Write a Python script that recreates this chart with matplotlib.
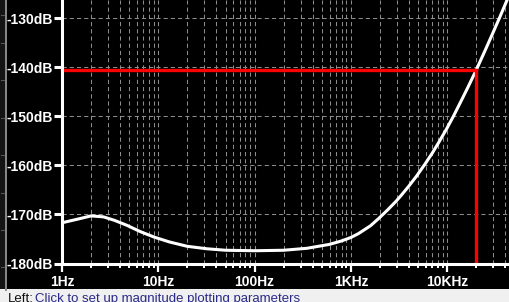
import matplotlib
matplotlib.use("Agg")
import matplotlib.pyplot as plt
from matplotlib.patches import Rectangle
from matplotlib.ticker import LogLocator, FixedLocator, NullFormatter
import numpy as np

# noise magnitude curve
freq = [1, 1.5, 2, 2.7, 3.5, 4.7, 6.5, 9, 13, 20, 32, 50, 100, 200, 350, 600,
        800, 1000, 1200, 1600, 1950, 2400, 2950, 3400, 3970, 4800, 5900, 7000,
        8300, 9900, 11600, 14100, 16500, 20000, 25000, 30000, 35000, 44900]
mag_db = [-171.7, -170.9, -170.3, -170.5, -171.2, -172.2, -173.5, -174.6, -175.6,
          -176.5, -177.0, -177.3, -177.4, -177.3, -176.9, -176.1,
          -175.4, -174.7, -173.9, -172.3, -170.8, -169.1, -167.3, -165.9,
          -164.3, -162.2, -159.7, -157.5, -155.1, -152.5, -150.0, -146.7,
          -144.0, -140.6, -136.4, -132.9, -129.9, -124.9]

# cursor marker
cursor_f = 20000
cursor_db = -140.6

y_ticks = [-180, -170, -160, -150, -140, -130]
y_labels = ["-180dB", "-170dB", "-160dB", "-150dB", "-140dB", "-130dB"]
x_ticks = [1, 10, 100, 1000, 10000]
x_labels = ["1Hz", "10Hz", "100Hz", "1KHz", "10KHz"]

W, H = 510, 302
plt.rcParams['lines.scale_dashes'] = False
fig = plt.figure(figsize=(W / 100, H / 100), dpi=100, facecolor="black")

# left ruler strip
fig.add_artist(Rectangle((0, 0), 6 / W, 1, transform=fig.transFigure,
                         facecolor="#141414", edgecolor="none"))
fig.add_artist(plt.Line2D([6.5 / W, 6.5 / W], [12 / H, 1], transform=fig.transFigure,
                          color="#8a8a8a", lw=1.4))
for yy in [15, 43, 80, 118, 155, 193, 230, 267]:
    fig.add_artist(plt.Line2D([1.5 / W, 4 / W], [1 - yy / H, 1 - yy / H],
                              transform=fig.transFigure, color="#555555", lw=0.8))

# status bar
fig.add_artist(Rectangle((0, 0), 1, 13 / H, transform=fig.transFigure,
                         facecolor="#f0f0f0", edgecolor="none"))
fig.text(8 / W, -3 / H, "Left:", color="#101010", fontsize=9.5,
         family="Liberation Sans", va="bottom", ha="left")
fig.text(35 / W, -3 / H, "Click to set up magnitude plotting parameters",
         color="#2a2a8a", fontsize=9.5, family="Liberation Sans", va="bottom", ha="left")

ax = fig.add_axes([62 / W, (H - 263.5) / H, 1 - 62 / W, 263.5 / H])
ax.set_facecolor("black")
ax.set_xscale("log")
ax.set_xlim(1, 44900)
ax.set_ylim(-180, -126.3)

ax.xaxis.set_major_locator(FixedLocator(x_ticks))
ax.xaxis.set_minor_locator(LogLocator(base=10, subs=np.arange(2, 10)))
ax.xaxis.set_minor_formatter(NullFormatter())
ax.set_xticks(x_ticks)
ax.set_xticklabels(x_labels)
ax.set_yticks(y_ticks)
ax.set_yticklabels(y_labels)

ax.grid(True, which="both", axis="x", color="#8c8c8c", lw=0.75, ls=(0, (3, 2.2)))
ax.grid(True, which="major", axis="y", color="#8c8c8c", lw=0.75, ls=(0, (3, 2.2)))

for s in ["top", "right"]:
    ax.spines[s].set_visible(False)
for s in ["left", "bottom"]:
    ax.spines[s].set_color("white")
    ax.spines[s].set_linewidth(2.2)

ax.tick_params(axis="y", colors="white", length=6, width=2.2, pad=0.5,
               labelsize=10)
ax.tick_params(axis="x", which="major", colors="white", length=6, width=1.6,
               pad=2, labelsize=10)
ax.tick_params(axis="x", which="minor", colors="white", length=3, width=1.4)
for lab in ax.get_xticklabels() + ax.get_yticklabels():
    lab.set_family("Liberation Sans")
    lab.set_weight("bold")
    lab.set_color("white")

ax.plot(freq, mag_db, color="white", lw=2.2, solid_joinstyle="round",
        solid_capstyle="round", clip_on=True)
ax.plot([1, cursor_f], [cursor_db, cursor_db], color="#ff0000", lw=2.4, clip_on=False)
ax.plot([cursor_f, cursor_f], [cursor_db, -180], color="#ff0000", lw=2.4)

fig.savefig("out.png", dpi=100, facecolor="black")
